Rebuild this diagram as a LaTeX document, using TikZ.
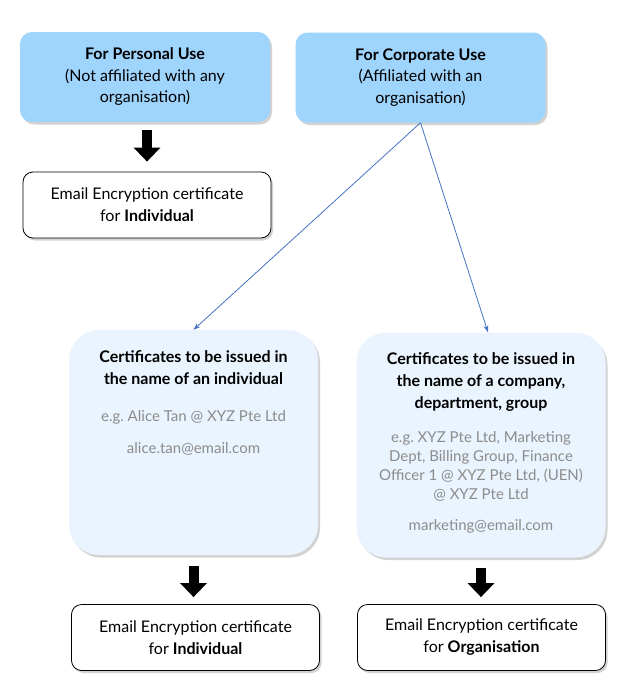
\documentclass[tikz,border=0pt]{standalone}
\usepackage{fontspec}
\setmainfont{Lato}
\frenchspacing
\usetikzlibrary{shadows,arrows.meta,calc}
\definecolor{hdr}{HTML}{9FD4FD}
\definecolor{pale}{HTML}{EAF4FE}
\definecolor{greytxt}{HTML}{8C8C8C}
\definecolor{lnblue}{HTML}{4472C4}
\tikzset{
  shadowed/.style={drop shadow={shadow xshift=2pt,shadow yshift=-2.5pt,opacity=0.25,fill=black!70}},
  header/.style={shadowed,fill=hdr,rounded corners=12pt,minimum width=250pt,minimum height=90pt,inner sep=0pt,align=center,font=\fontsize{16}{21.5}\selectfont},
  result/.style={shadowed,draw=black,fill=white,line width=0.8pt,rounded corners=10pt,minimum width=248pt,minimum height=66pt,inner sep=0pt,align=center,font=\fontsize{16}{22}\selectfont},
  bigbox/.style={shadowed,fill=pale,rounded corners=30pt,minimum width=249pt,minimum height=225pt,inner sep=0pt},
  title/.style={align=center,font=\bfseries\fontsize{16}{22}\selectfont,inner sep=0pt},
  grey/.style={align=center,text=greytxt,font=\fontsize{15}{19}\selectfont,inner sep=0pt},
  bigarrow/.style={line width=10pt,-{Triangle[width=26pt,length=14pt]}},
  thinarrow/.style={draw=lnblue,line width=0.8pt,-{Stealth[length=7pt,width=5pt]}}
}
\begin{document}
\begin{tikzpicture}[x=1pt,y=-1pt]
\useasboundingbox (0,0) rectangle (636,694);
% headers
\node[header] (pers) at (145,77) {\textbf{For Personal Use}\\(Not affiliated with any\\organisation)};
\node[header] (corp) at (420.5,77.5) {\textbf{For Corporate Use}\\(Affiliated with an\\organisation)};
% top result
\node[result] (indtop) at (147,205) {Email Encryption certificate\\for \textbf{Individual}};
% big boxes
\node[bigbox] (lbox) at (193.5,442.5) {};
\node[bigbox] (rbox) at (481,445) {};
% texts in left box
\node[title] (ltitle) at (193.5,368) {Certificates to be issued in\\the name of an individual};
\node[grey] (lex) at (193.5,417) {e.g. Alice Tan @ XYZ Pte Ltd};
\node[grey] (lmail) at (193.5,449) {alice.tan@email.com};
% texts in right box
\node[title] (rtitle) at (481,382) {Certificates to be issued in\\the name of a company,\\department, group};
\node[grey] (rex) at (481,466.5) {e.g. XYZ Pte Ltd, Marketing\\Dept, Billing Group, Finance\\Officer 1 @ XYZ Pte Ltd, (UEN)\\@ XYZ Pte Ltd};
\node[grey] (rmail) at (481,526) {marketing@email.com};
% bottom results
\node[result] (indbot) at (195.5,637.5) {Email Encryption certificate\\for \textbf{Individual}};
\node[result] (orgbot) at (481.5,637.5) {Email Encryption certificate\\for \textbf{Organisation}};
% arrows
\coordinate (ptip) at ($(pers.south)+(2,0)$);
\draw[bigarrow,shorten <=8pt,shorten >=10pt] (ptip) -- (ptip |- indtop.north);
\draw[bigarrow,shorten <=11pt,shorten >=7pt] (lbox.south) -- (lbox.south |- indbot.north);
\draw[bigarrow,shorten <=10pt,shorten >=7pt] (rbox.south) -- (rbox.south |- orgbot.north);
\coordinate (rend) at ($(rbox.north)+(7,0)$);
\draw[thinarrow] (corp.south) -- (lbox.north);
\draw[thinarrow] (corp.south) -- (rend);
\end{tikzpicture}
\end{document}
